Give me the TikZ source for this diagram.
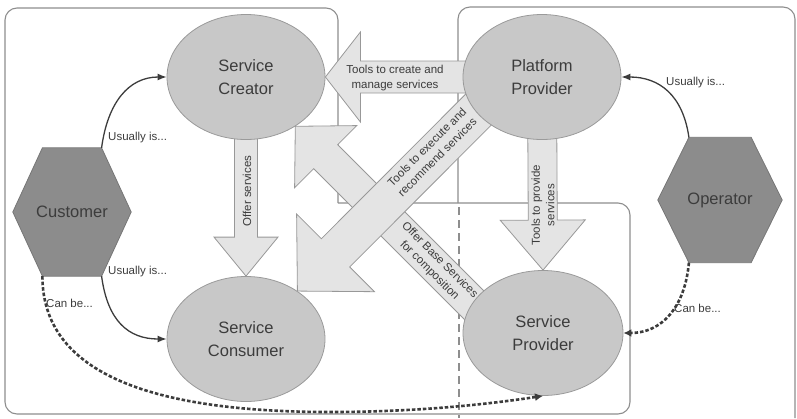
\documentclass[tikz,border=0pt]{standalone}
\usepackage{xcolor}
\usepackage{fontspec}
\setmainfont{Liberation Sans}
\usetikzlibrary{arrows.meta, calc, shapes.geometric}
\definecolor{rolFill}{HTML}{C8C8C8}
\definecolor{rolLine}{HTML}{9A9A9A}
\definecolor{actFill}{HTML}{8C8C8C}
\definecolor{actLine}{HTML}{767676}
\definecolor{toolFill}{HTML}{E4E4E4}
\definecolor{toolLine}{HTML}{989898}
\definecolor{inkGrey}{HTML}{3C3C3C}
\definecolor{frameGrey}{HTML}{8E8E8E}

\pgfdeclarelayer{frames}
\pgfdeclarelayer{tools}
\pgfsetlayers{frames,tools,main}

\tikzset{
  role/.style={ellipse, draw=rolLine, fill=rolFill, line width=0.8pt,
    minimum width=158pt, minimum height=125pt, inner sep=0pt, align=center,
    text=inkGrey, font=\fontsize{16.5}{23}\selectfont},
  actor/.style={rectangle, minimum width=118pt, minimum height=128pt,
    inner sep=0pt, text=inkGrey, font=\fontsize{16.5}{20}\selectfont},
  hexfill/.style={draw=actLine, fill=actFill, line width=0.8pt},
  tool/.style={draw=toolLine, fill=toolFill, line width=0.8pt, line join=miter},
  toollabel/.style={text=inkGrey, align=center, inner sep=0pt,
    font=\fontsize{11.5}{14.5}\selectfont},
  relation/.style={draw=inkGrey, line width=1.3pt, -{Latex[length=9pt,width=7pt]}},
  maybe/.style={draw=inkGrey, line width=2.6pt, dash pattern=on 3.5pt off 2pt,
    -{Latex[length=8pt,width=8pt]}},
  relnote/.style={text=inkGrey, inner sep=0pt, anchor=west,
    font=\fontsize{11.5}{13}\selectfont},
  frame/.style={draw=frameGrey, line width=1.1pt},
}

% block arrow: from, to, half shaft, half head, head length
\newcommand{\toolarrow}[5]{%
  \coordinate (ta-base) at ($(#2)!#5!(#1)$);
  \filldraw[tool] ($(#1)!#3!90:(#2)$) -- ($(ta-base)!#3!-90:(#1)$)
    -- ($(ta-base)!#4!-90:(#1)$) -- (#2) -- ($(ta-base)!#4!90:(#1)$)
    -- ($(ta-base)!#3!90:(#1)$) -- ($(#1)!#3!-90:(#2)$) -- cycle;}

\begin{document}
\begin{tikzpicture}[x=1pt, y=-1pt]
  \useasboundingbox (0,0) rectangle (797,418);

  % roles
  \node[role] (creator) at (246,77) {Service\\Creator};
  \node[role] (platform) at (542,77) {Platform\\Provider};
  \node[role] (consumer) at (246,339) {Service\\Consumer};
  \node[role, minimum width=160pt] (provider) at (543,333) {Service\\Provider};

  % actors
  \node[actor] (customer) at (72,212) {Customer};
  \node[actor, minimum width=124pt, minimum height=125pt] (operator) at (720,200) {Operator};

  \begin{pgfonlayer}{frames}
    \draw[frame, rounded corners=12pt] (338,203) -- (338,8) -- (5,8) -- (5,414)
      -- (630,414) -- (630,203) -- (338,203);
    \draw[frame, rounded corners=12pt] (458,203) -- (458,7) -- (795,7) -- (795,418);
    \draw[frame, dash pattern=on 8pt off 5pt] (459,207) -- (459,418);
  \end{pgfonlayer}

  \begin{pgfonlayer}{tools}
    \foreach \who in {customer, operator}
      \filldraw[hexfill] (\who.west)
        -- ($(\who.north west)!.25!(\who.north east)$)
        -- ($(\who.north west)!.75!(\who.north east)$)
        -- (\who.east)
        -- ($(\who.south west)!.75!(\who.south east)$)
        -- ($(\who.south west)!.25!(\who.south east)$) -- cycle;

    \coordinate (create-from) at ($(platform.center)+(-40,0)$);
    \coordinate (base-from) at ($(provider.center)+(-50,-9)$);
    \coordinate (exec-from) at ($(platform.center)+(-50,19)$);
    \toolarrow{create-from}{creator.east}{16pt}{45pt}{35pt}
    \toolarrow{creator.center}{consumer.north}{11.5pt}{32pt}{39pt}
    \toolarrow{platform.center}{provider.north}{14.5pt}{42.5pt}{50pt}
    \toolarrow{base-from}{creator.-45}{17pt}{44pt}{43pt}
    \toolarrow{exec-from}{consumer.43}{20pt}{55pt}{54pt}
  \end{pgfonlayer}

  \node[toollabel] (lbl-create) at (395,78) {Tools to create and\\manage services};
  \node[toollabel, rotate=90] (lbl-offer) at (247,191) {Offer services};
  \node[toollabel, rotate=90] (lbl-provide) at (543,205) {Tools to provide\\services};
  \node[toollabel, rotate=45] (lbl-exec) at (432,152) {Tools to execute and\\recommend services};
  \node[toollabel, rotate=-45] (lbl-base) at (434.5,265.5) {Offer Base Services\\for composition};

  % who plays which role
  \draw[relation] ($(customer.north west)!.75!(customer.north east)$)
    .. controls +(6,-45) and +(-38,0) .. (creator.west);
  \draw[relation] ($(customer.south west)!.75!(customer.south east)$)
    .. controls +(6,45) and +(-38,0) .. (consumer.west);
  \draw[maybe] ($(customer.south west)!.25!(customer.south east)$)
    .. controls +(0,105) and +(-160,0) .. (330,412)
    .. controls +(100,0) and +(-40,6) .. (provider.south);
  \draw[relation] ($(operator.north west)!.25!(operator.north east)$)
    .. controls +(-6,-42) and +(38,0) .. (platform.east);
  \draw[maybe] ($(operator.south west)!.25!(operator.south east)$)
    .. controls +(-4,45) and +(38,0) .. (provider.east);

  \node[relnote] (note-cc) at (108,138) {Usually is...};
  \node[relnote] (note-cs) at (108,272) {Usually is...};
  \node[relnote] (note-cp) at (46,303) {Can be...};
  \node[relnote] (note-op) at (666,83) {Usually is...};
  \node[relnote] (note-os) at (674,308) {Can be...};
\end{tikzpicture}
\end{document}
